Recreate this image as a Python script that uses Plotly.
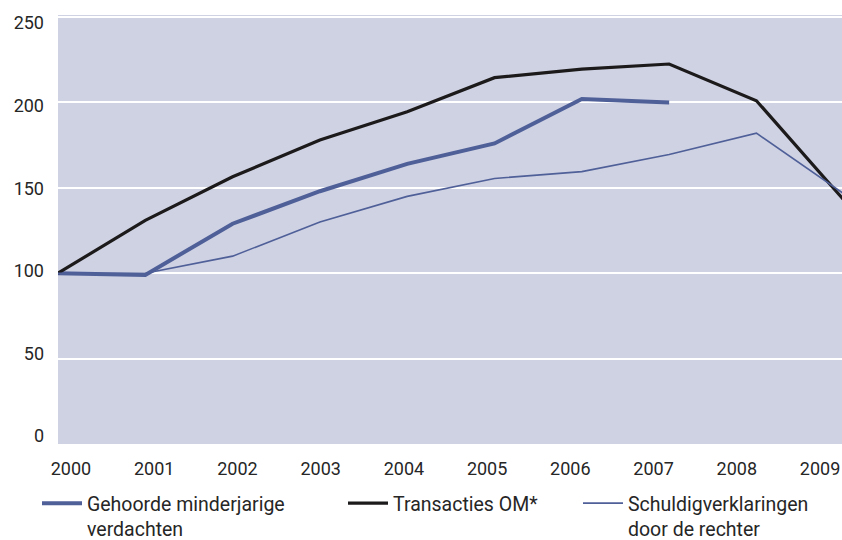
import plotly.graph_objects as go

# Index figures, 2000 = 100
years = [2000, 2001, 2002, 2003, 2004, 2005, 2006, 2007, 2008, 2009]
tick_years = [2000, 2001, 2002, 2003, 2004, 2005, 2006, 2007, 2008, 2009]
y_ticks = [0, 50, 100, 150, 200, 250]

verdachten = [100, 99, 129, 148, 164, 176, 202, 200, None, None]
transacties = [100, 131, 156.5, 178, 194.5, 214.5, 219.5, 222.5, 201, 143]
schuldig = [100, 100, 110, 130, 145, 155.5, 159.5, 169.5, 182, 146.5]

names = [
    "Gehoorde minderjarige<br>verdachten",
    "Transacties OM*",
    "Schuldigverklaringen<br>door de rechter",
]

BLUE = "#4f5f98"
INK = "#1c1a1a"
BG = "#cfd2e3"
TXT = "#262626"
FONT = "Roboto"

fig = go.Figure()
fig.add_trace(go.Scatter(x=years, y=verdachten, name=names[0], mode="lines",
                         line=dict(color=BLUE, width=4), legend="legend"))
fig.add_trace(go.Scatter(x=years, y=transacties, name=names[1], mode="lines",
                         line=dict(color=INK, width=3.2), legend="legend2"))
fig.add_trace(go.Scatter(x=years, y=schuldig, name=names[2], mode="lines",
                         line=dict(color=BLUE, width=1.6), legend="legend3"))
# empty trace so the label-only axes get drawn
fig.add_trace(go.Scatter(x=[], y=[], xaxis="x2", yaxis="y2",
                         showlegend=False, hoverinfo="skip"))


def legend_box(x_px):
    """One legend entry placed at a pixel offset under the plot."""
    return dict(
        xref="container", yref="container",
        x=x_px / 842, y=1 - 484 / 540, xanchor="left", yanchor="top",
        font=dict(family=FONT, size=19.5, color=TXT),
        itemwidth=40,
        bgcolor="rgba(0,0,0,0)", valign="top",
    )


fig.update_layout(
    width=842, height=540,
    margin=dict(l=58, r=0, t=15, b=96, autoexpand=False),
    paper_bgcolor="white",
    plot_bgcolor=BG,
    font=dict(family=FONT, size=18, color=TXT),
    showlegend=True,
    legend=legend_box(37),
    legend2=legend_box(343),
    legend3=legend_box(578),
    xaxis=dict(
        range=[2000, 2008.98],
        showgrid=False, zeroline=False, showticklabels=False,
        ticks="", showline=False,
    ),
    yaxis=dict(
        range=[0, 251.2],
        tickvals=y_ticks,
        showgrid=True, gridcolor="white", gridwidth=2,
        zeroline=False, showticklabels=False, ticks="", showline=False,
    ),
    # axes carrying only the tick labels
    xaxis2=dict(
        overlaying="x", side="bottom",
        range=[1999.844, 2009.264],
        tickvals=tick_years, ticktext=[str(y) for y in tick_years],
        showgrid=False, zeroline=False, showline=False, ticks="",
        ticklabelstandoff=12,
        tickfont=dict(family=FONT, size=18, color=TXT),
    ),
    yaxis2=dict(
        overlaying="y", side="left",
        range=[-4.83, 254.83],
        tickvals=y_ticks,
        showgrid=False, zeroline=False, showline=False, ticks="",
        ticklabelstandoff=13,
        tickfont=dict(family=FONT, size=18, color=TXT),
    ),
)

fig.write_html("out.html")
